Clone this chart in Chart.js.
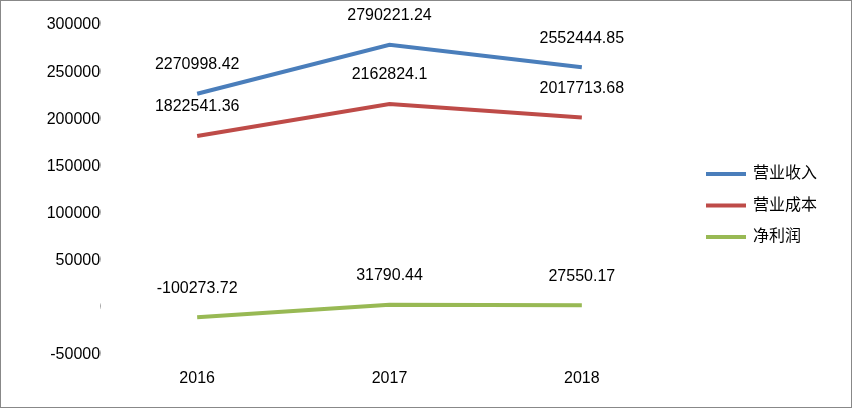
<!DOCTYPE html>
<html><head><meta charset="utf-8">
<script src="https://cdn.jsdelivr.net/npm/chart.js@4"></script>
<style>html,body{margin:0;padding:0;background:#fff}#w{width:852px;height:408px;box-sizing:border-box;border:1px solid #888;position:relative}canvas{position:absolute;left:0;top:0}</style>
</head><body><div id="w"><canvas id="c" width="852" height="408"></canvas></div>
<script>
const categories=["2016","2017","2018"];
const revenue=[2270998.42,2790221.24,2552444.85];
const cost=[1822541.36,2162824.1,2017713.68];
const profit=[-100273.72,31790.44,27550.17];
const seriesNames=["营业收入","营业成本","净利润"];
const colors=["#4a7ebb","#be4b48","#98b954"];
const FONT='"Liberation Sans","Noto Sans CJK SC",sans-serif';
const labelPlugin={id:'lbl',afterDatasetsDraw(ch){const c=ch.ctx;c.save();c.font='16px '+FONT;c.fillStyle='#000';c.textAlign='center';c.textBaseline='middle';
ch.data.datasets.forEach((ds,i)=>{ch.getDatasetMeta(i).data.forEach((p,j)=>{c.fillText(String(ds.data[j]),p.x,p.y-29);});});
ch.data.datasets.forEach((ds,i)=>{const y=173+i*31.5;c.strokeStyle=ds.borderColor;c.lineWidth=4;c.beginPath();c.moveTo(705,y);c.lineTo(745,y);c.stroke();c.textAlign='left';c.fillText(ds.label,752,y);});
c.restore();}};
new Chart(document.getElementById('c'),{type:'line',data:{labels:categories,datasets:[revenue,cost,profit].map((d,i)=>({label:seriesNames[i],data:d,borderColor:colors[i],backgroundColor:colors[i],borderWidth:4,pointRadius:0,tension:0}))},
options:{responsive:false,animation:false,layout:{padding:{top:24,right:175,left:0,bottom:0}},plugins:{legend:{display:false},tooltip:{enabled:false}},
scales:{x:{offset:true,grid:{display:false,drawTicks:false,offset:true},border:{display:false},ticks:{color:'#000',font:{size:16,family:FONT},padding:14},afterFit(s){s.height=54;}},
y:{min:-500000,max:3000000,ticks:{stepSize:500000,color:'#000',font:{size:16,family:FONT},padding:-8,callback:v=>String(v)},grid:{display:false,drawTicks:false},border:{display:false},afterFit(s){s.width=100;}}}},plugins:[labelPlugin]});
</script></body></html>
